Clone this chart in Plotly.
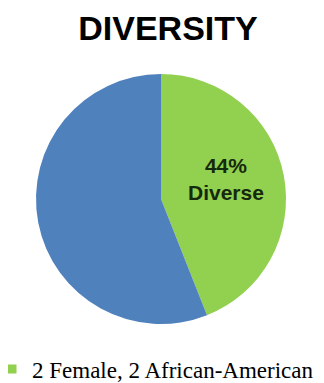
import plotly.graph_objects as go

# data
labels = ["2 Female, 2 African-American", "Other"]
values = [44, 56]
colors = ["#92D050", "#4F81BD"]
slice_label = "Diverse"

TITLE = "DIVERSITY"

# page body has an 8px margin, so the figure is 8px smaller than the window
W, H = 316, 375

fig = go.Figure()
fig.add_trace(go.Pie(labels=labels, values=values, sort=False, direction="clockwise",
                     rotation=0, marker=dict(colors=colors, line=dict(width=0)),
                     textinfo="none", hoverinfo="label+percent", showlegend=False))
# legend entry only for the diverse slice
fig.add_trace(go.Scatter(x=[None], y=[None], mode="markers", name=labels[0],
                         marker=dict(symbol="square", size=9, color=colors[0])))

pct = round(100 * values[0] / sum(values))
fig.add_annotation(text="<b>%d%%<br>%s</b>" % (pct, slice_label), xref="paper", yref="paper",
                   x=0.76, y=0.58, showarrow=False, xanchor="center", yanchor="middle",
                   font=dict(family="Liberation Sans", size=21, color="#15290c"))

fig.update_layout(width=W, height=H,
                  margin=dict(l=28, r=38, t=66, b=59, autoexpand=False),
                  paper_bgcolor="white", plot_bgcolor="white",
                  title=dict(text="<b>%s</b>" % TITLE, x=160 / W, xanchor="center", y=1 - 20 / H, yanchor="middle",
                             font=dict(family="Liberation Sans", size=34, color="black")),
                  xaxis=dict(visible=False), yaxis=dict(visible=False),
                  showlegend=True,
                  legend=dict(x=-0.176, xanchor="left", y=-0.18, yanchor="middle", orientation="h",
                              font=dict(family="Liberation Serif", size=23, color="black"),
                              itemwidth=30))
fig.write_html("out.html")
